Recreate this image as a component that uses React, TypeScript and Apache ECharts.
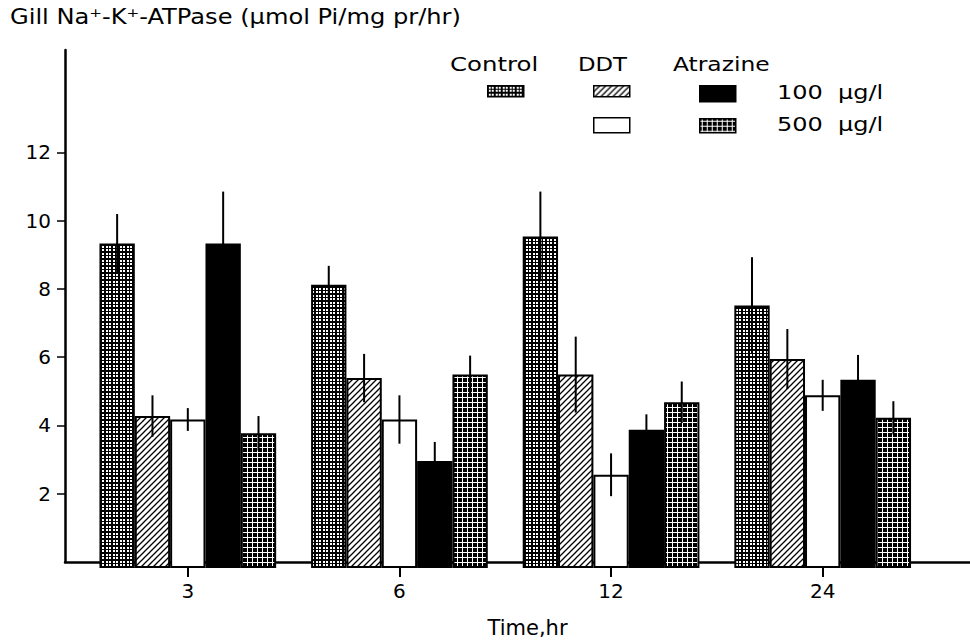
import React, { useEffect, useRef } from "react";
import * as echarts from "echarts";

// ---- data ----
const categories = ["3", "6", "12", "24"];
const seriesNames = ["Control", "DDT 100", "DDT 500", "Atrazine 100", "Atrazine 500"];
const control = [9.4, 8.2, 9.6, 7.6];
const controlErr = [0.85, 0.55, 1.3, 1.4];
const ddt100 = [4.4, 5.5, 5.6, 6.05];
const ddt100Err = [0.6, 0.7, 1.1, 0.87];
const ddt500 = [4.3, 4.3, 2.7, 5.0];
const ddt500Err = [0.33, 0.7, 0.62, 0.45];
const atr100 = [9.4, 3.1, 4.0, 5.45];
const atr100Err = [1.5, 0.55, 0.45, 0.72];
const atr500 = [3.9, 5.6, 4.8, 4.35];
const atr500Err = [0.5, 0.55, 0.6, 0.48];
const yTicks = [2, 4, 6, 8, 10, 12];

const FONT = "DejaVu Sans";

function makeTile(size: number, draw: (ctx: CanvasRenderingContext2D) => void) {
  const c = document.createElement("canvas");
  c.width = size;
  c.height = size;
  const ctx = c.getContext("2d") as CanvasRenderingContext2D;
  draw(ctx);
  return { image: c, repeat: "repeat", imageWidth: size, imageHeight: size } as any;
}

function buildPatterns() {
  const grid = makeTile(7, (ctx) => {
    ctx.fillStyle = "#000";
    ctx.fillRect(0, 0, 7, 7);
    ctx.fillStyle = "#fff";
    for (const x of [1, 4]) for (const y of [1, 4]) ctx.fillRect(x, y, 2, 2);
  });
  const hatch = makeTile(6, (ctx) => {
    ctx.fillStyle = "#fff";
    ctx.fillRect(0, 0, 6, 6);
    ctx.strokeStyle = "#000";
    ctx.lineWidth = 1.3;
    ctx.beginPath();
    ctx.moveTo(-1, 7);
    ctx.lineTo(7, -1);
    ctx.moveTo(-1, 1);
    ctx.lineTo(1, -1);
    ctx.moveTo(5, 7);
    ctx.lineTo(7, 5);
    ctx.stroke();
  });
  const cross = makeTile(5, (ctx) => {
    ctx.fillStyle = "#000";
    ctx.fillRect(0, 0, 5, 5);
    ctx.fillStyle = "#fff";
    ctx.fillRect(0, 2, 5, 1);
    ctx.fillRect(2, 0, 1, 5);
  });
  return [grid, hatch, "#fff", "#000", cross];
}

export default function App() {
  const ref = useRef<HTMLDivElement>(null);
  useEffect(() => {
    if (!ref.current) return;
    const chart = echarts.init(ref.current, null, { renderer: "svg" });
    const fills = buildPatterns();
    const values = [control, ddt100, ddt500, atr100, atr500];
    const errs = [controlErr, ddt100Err, ddt500Err, atr100Err, atr500Err];
    const BAR_FRAC = 0.167;
    const top = 50;
    const bottom = 75;

    const barSeries = values.map((v, k) => ({
      type: "bar",
      name: seriesNames[k],
      xAxisIndex: 0,
      yAxisIndex: 0,
      data: v,
      barWidth: "16.7%",
      barGap: "0%",
      itemStyle: { color: fills[k], borderColor: "#000", borderWidth: 2 },
      z: 2,
    }));

    const errSeries = values.map((v, k) => ({
      type: "custom",
      name: seriesNames[k] + " err",
      xAxisIndex: 0,
      yAxisIndex: 0,
      z: 5,
      data: v.map((val, i) => [i, val, errs[k][i]]),
      encode: { x: 0, y: 1 },
      renderItem: (params: any, api: any) => {
        const cat = api.value(0);
        const val = api.value(1);
        const e = api.value(2);
        const p1 = api.coord([cat, val + e]);
        const p2 = api.coord([cat, val - e]);
        const band = api.size([1, 0])[0];
        const bw = band * BAR_FRAC;
        const x = p1[0] - 2.5 * bw + (k + 0.5) * bw;
        return {
          type: "line",
          shape: { x1: x, y1: p1[1], x2: x, y2: p2[1] },
          style: { stroke: "#000", lineWidth: 2 },
        };
      },
    }));

    const legendPos = [
      { left: 487, top: 85, h: 11 },
      { left: 593, top: 85, h: 11 },
      { left: 593, top: 117, h: 15 },
      { left: 699, top: 85, h: 16 },
      { left: 699, top: 118, h: 14 },
    ];
    const legends = seriesNames.map((n, k) => ({
      data: [n],
      left: legendPos[k].left,
      top: legendPos[k].top,
      padding: 0,
      itemWidth: 36,
      itemHeight: legendPos[k].h,
      icon: "rect",
      selectedMode: false,
      formatter: () => "",
      itemStyle: { borderColor: "#000", borderWidth: 1.5 },
    }));

    const textStyle = { fontFamily: FONT, fontSize: 20, fill: "#000" };

    chart.setOption({
      animation: false,
      backgroundColor: "#fff",
      legend: legends,
      graphic: [
        {
          type: "text",
          x: 10,
          y: 6,
          scaleX: 1.15,
          style: {
            fontFamily: FONT,
            fontSize: 21,
            fill: "#000",
            text: "Gill Na\u207A-K\u207A-ATPase (\u00B5mol Pi/mg pr/hr)",
          },
        },
        { type: "text", x: 450, y: 54, scaleX: 1.22, style: { ...textStyle, text: "Control" } },
        { type: "text", x: 578, y: 54, scaleX: 1.14, style: { ...textStyle, text: "DDT" } },
        { type: "text", x: 673, y: 54, scaleX: 1.17, style: { ...textStyle, text: "Atrazine" } },
        { type: "text", x: 777, y: 82, scaleX: 1.2, style: { ...textStyle, text: "100  \u00B5g/l" } },
        { type: "text", x: 777, y: 114, scaleX: 1.2, style: { ...textStyle, text: "500  \u00B5g/l" } },
      ],
      grid: [
        { left: 82, right: 41.5, top, bottom },
        { left: 65, right: 0, top, bottom },
      ],
      xAxis: [
        {
          type: "category",
          gridIndex: 0,
          data: categories,
          axisLine: { show: false },
          axisTick: { show: true, alignWithLabel: true, length: 9, lineStyle: { color: "#000", width: 2 } },
          axisLabel: { color: "#000", fontFamily: FONT, fontSize: 20, margin: 13 },
          splitLine: { show: false },
        },
        {
          type: "value",
          gridIndex: 1,
          min: 0,
          max: 1,
          axisLine: { show: true, lineStyle: { color: "#000", width: 2.5 } },
          axisTick: { show: false },
          axisLabel: { show: false },
          splitLine: { show: false },
          name: "Time,hr",
          nameLocation: "middle",
          nameGap: 55,
          nameTextStyle: { color: "#000", fontFamily: FONT, fontSize: 21, padding: [0, 0, 0, 20] },
        },
      ],
      yAxis: [
        {
          type: "value",
          gridIndex: 0,
          min: 0,
          max: 15,
          show: false,
          splitLine: { show: false },
        },
        {
          type: "value",
          gridIndex: 1,
          min: 0,
          max: 15,
          axisLine: { show: true, lineStyle: { color: "#000", width: 2.5 } },
          axisTick: { show: true, customValues: yTicks, length: 8, lineStyle: { color: "#000", width: 1.5 } },
          axisLabel: { customValues: yTicks, color: "#000", fontFamily: FONT, fontSize: 20, margin: 14 },
          splitLine: { show: false },
        },
      ],
      series: [...barSeries, ...errSeries],
    });
    return () => chart.dispose();
  }, []);
  return (
    <div
      ref={ref}
      style={{ position: "absolute", left: 0, top: 0, width: 970, height: 643, background: "#fff" }}
    />
  );
}
